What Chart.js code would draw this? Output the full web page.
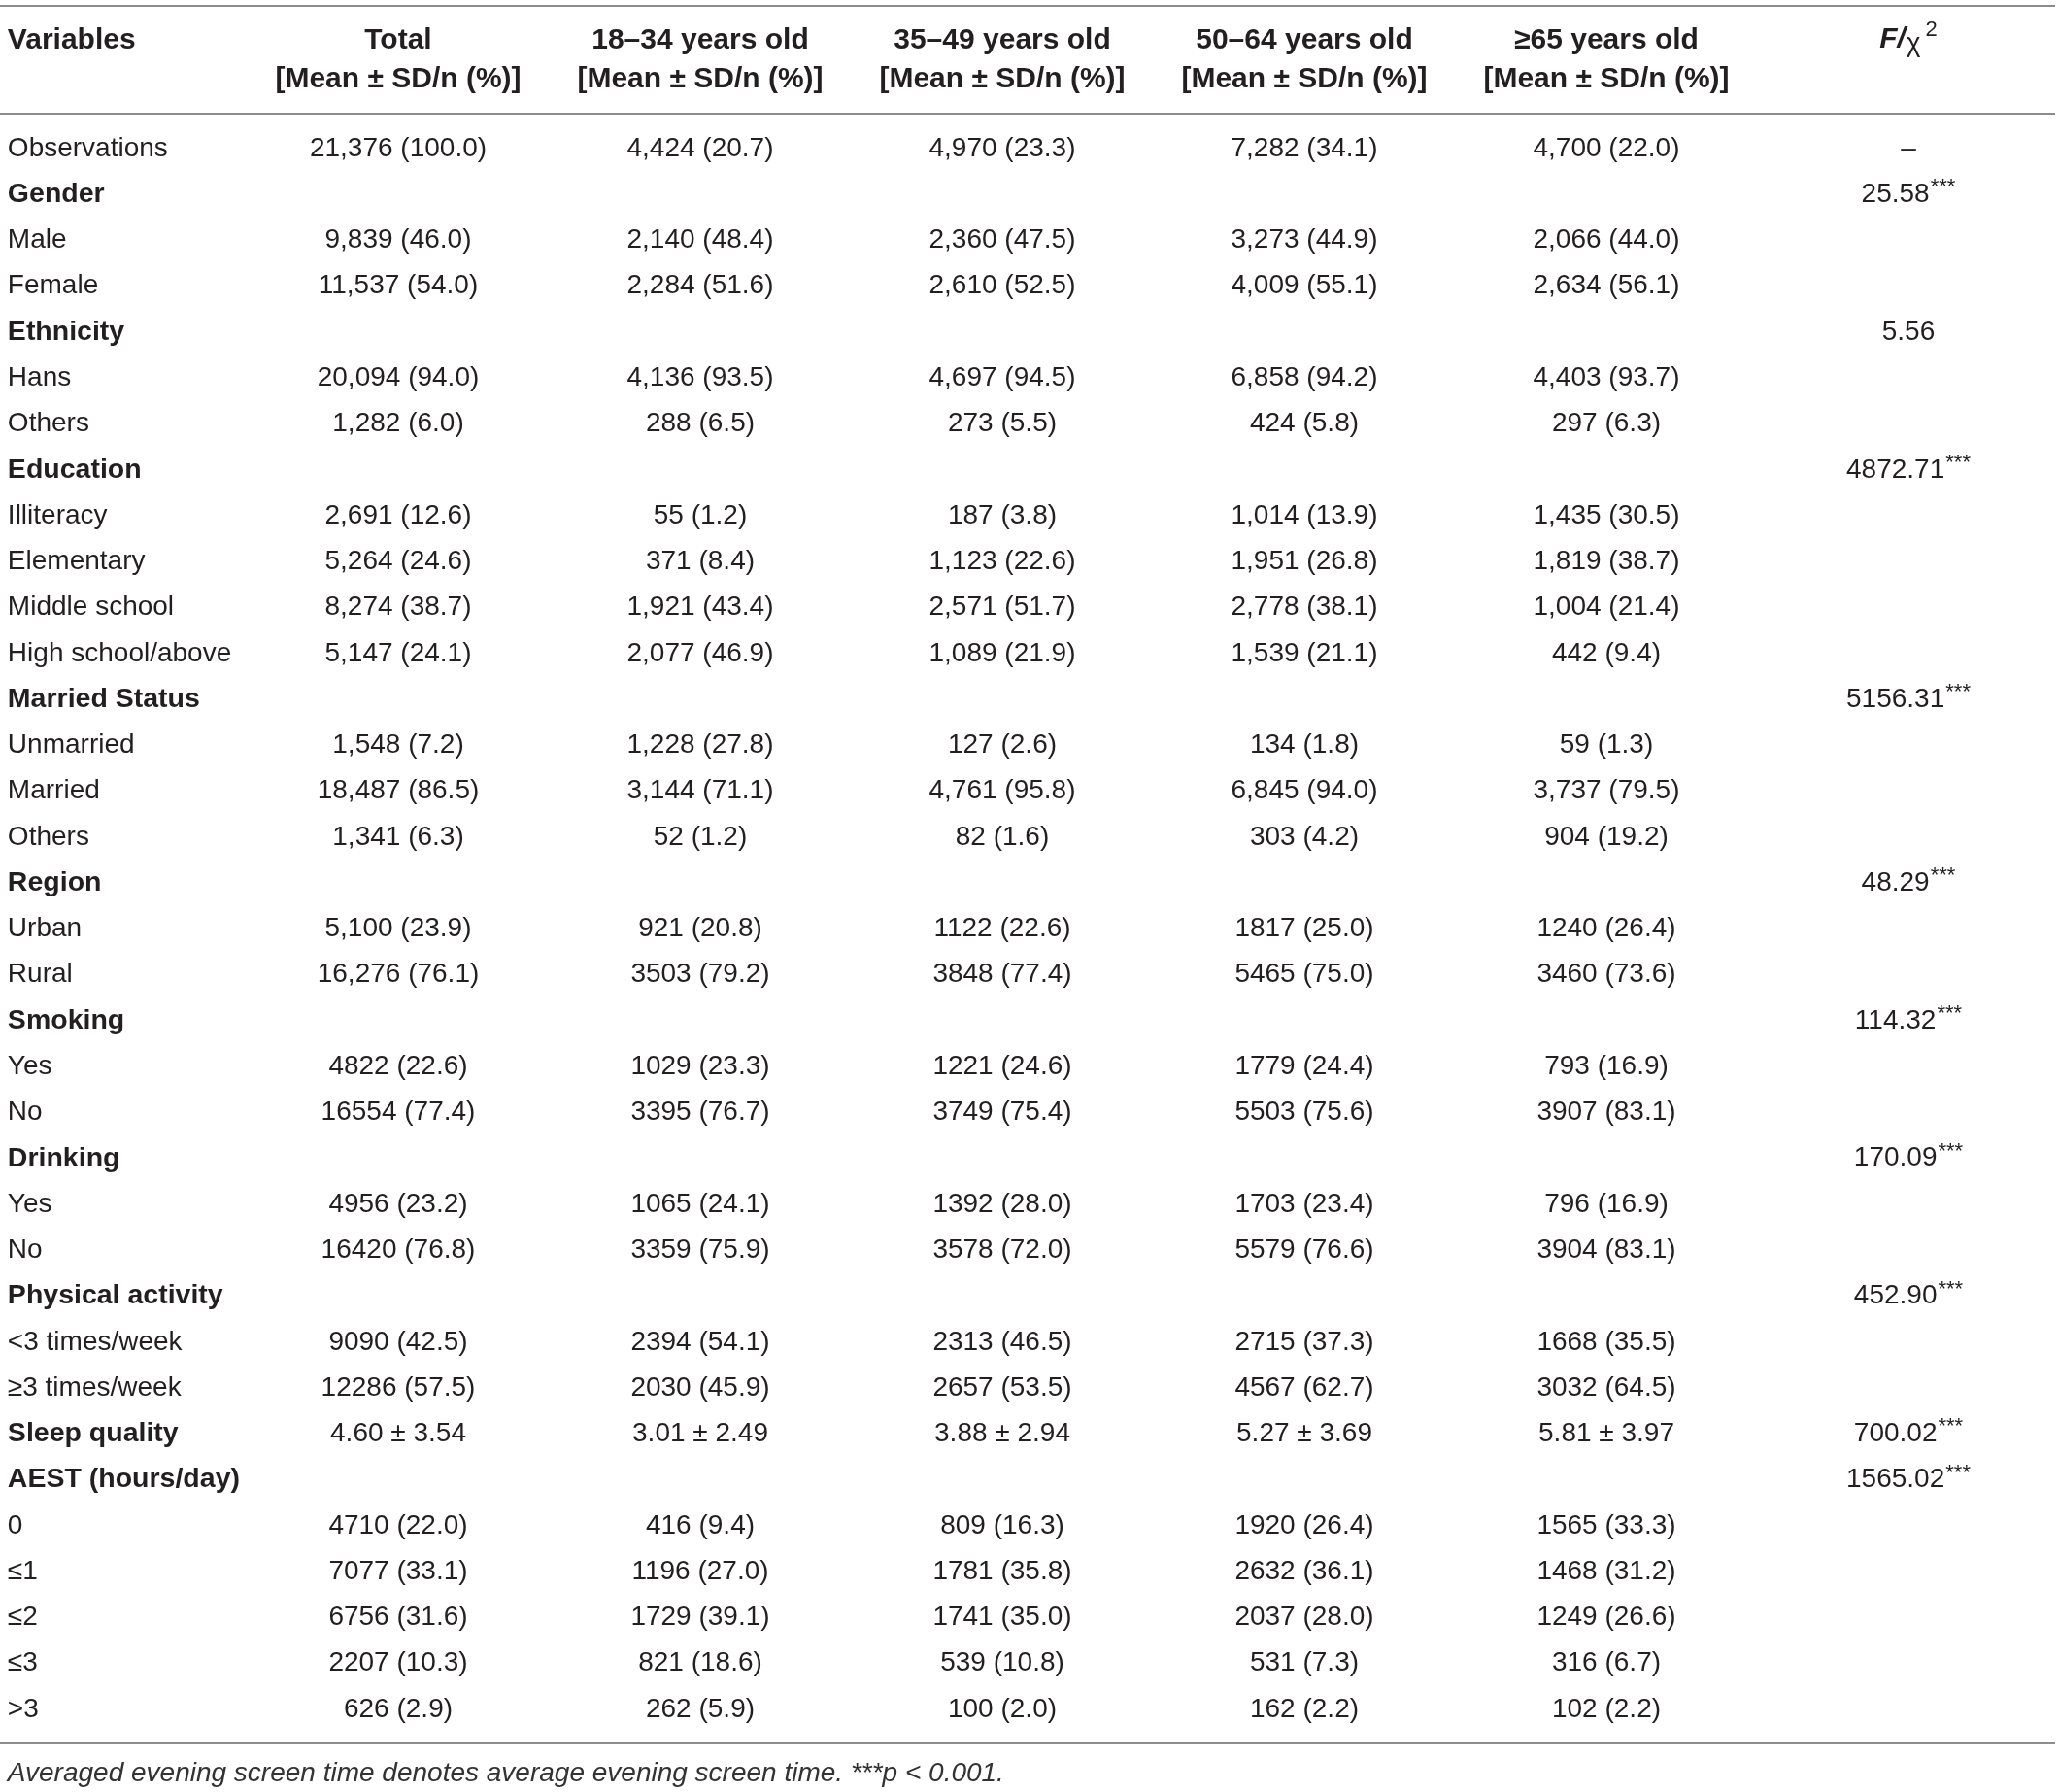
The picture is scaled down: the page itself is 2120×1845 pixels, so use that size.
<!DOCTYPE html>
<html>
<head>
<meta charset="utf-8">
<script src="https://cdn.jsdelivr.net/npm/chart.js@4.4.1/dist/chart.umd.min.js"></script>
<style>
  html, body { margin: 0; padding: 0; background: #ffffff; }
  canvas { display: block; }
</style>
</head>
<body>
<canvas id="tableChart" width="2120" height="1845"></canvas>
<script>
// table content, one array per column
const rowLabels = [
	"Observations", "Gender", "Male", "Female", "Ethnicity", "Hans", "Others",
	"Education", "Illiteracy", "Elementary", "Middle school", "High school/above",
	"Married Status", "Unmarried", "Married", "Others", "Region", "Urban", "Rural",
	"Smoking", "Yes", "No", "Drinking", "Yes", "No", "Physical activity",
	"<3 times/week", "≥3 times/week", "Sleep quality", "AEST (hours/day)",
	"0", "≤1", "≤2", "≤3", ">3"
];
const groupRows = [
	"Gender", "Ethnicity", "Education", "Married Status", "Region", "Smoking",
	"Drinking", "Physical activity", "Sleep quality", "AEST (hours/day)"
];
const totalCol = [
	"21,376 (100.0)", "", "9,839 (46.0)", "11,537 (54.0)", "", "20,094 (94.0)", "1,282 (6.0)",
	"", "2,691 (12.6)", "5,264 (24.6)", "8,274 (38.7)", "5,147 (24.1)",
	"", "1,548 (7.2)", "18,487 (86.5)", "1,341 (6.3)", "", "5,100 (23.9)", "16,276 (76.1)",
	"", "4822 (22.6)", "16554 (77.4)", "", "4956 (23.2)", "16420 (76.8)", "",
	"9090 (42.5)", "12286 (57.5)", "4.60 ± 3.54", "",
	"4710 (22.0)", "7077 (33.1)", "6756 (31.6)", "2207 (10.3)", "626 (2.9)"
];
const age18to34 = [
	"4,424 (20.7)", "", "2,140 (48.4)", "2,284 (51.6)", "", "4,136 (93.5)", "288 (6.5)",
	"", "55 (1.2)", "371 (8.4)", "1,921 (43.4)", "2,077 (46.9)",
	"", "1,228 (27.8)", "3,144 (71.1)", "52 (1.2)", "", "921 (20.8)", "3503 (79.2)",
	"", "1029 (23.3)", "3395 (76.7)", "", "1065 (24.1)", "3359 (75.9)", "",
	"2394 (54.1)", "2030 (45.9)", "3.01 ± 2.49", "",
	"416 (9.4)", "1196 (27.0)", "1729 (39.1)", "821 (18.6)", "262 (5.9)"
];
const age35to49 = [
	"4,970 (23.3)", "", "2,360 (47.5)", "2,610 (52.5)", "", "4,697 (94.5)", "273 (5.5)",
	"", "187 (3.8)", "1,123 (22.6)", "2,571 (51.7)", "1,089 (21.9)",
	"", "127 (2.6)", "4,761 (95.8)", "82 (1.6)", "", "1122 (22.6)", "3848 (77.4)",
	"", "1221 (24.6)", "3749 (75.4)", "", "1392 (28.0)", "3578 (72.0)", "",
	"2313 (46.5)", "2657 (53.5)", "3.88 ± 2.94", "",
	"809 (16.3)", "1781 (35.8)", "1741 (35.0)", "539 (10.8)", "100 (2.0)"
];
const age50to64 = [
	"7,282 (34.1)", "", "3,273 (44.9)", "4,009 (55.1)", "", "6,858 (94.2)", "424 (5.8)",
	"", "1,014 (13.9)", "1,951 (26.8)", "2,778 (38.1)", "1,539 (21.1)",
	"", "134 (1.8)", "6,845 (94.0)", "303 (4.2)", "", "1817 (25.0)", "5465 (75.0)",
	"", "1779 (24.4)", "5503 (75.6)", "", "1703 (23.4)", "5579 (76.6)", "",
	"2715 (37.3)", "4567 (62.7)", "5.27 ± 3.69", "",
	"1920 (26.4)", "2632 (36.1)", "2037 (28.0)", "531 (7.3)", "162 (2.2)"
];
const age65plus = [
	"4,700 (22.0)", "", "2,066 (44.0)", "2,634 (56.1)", "", "4,403 (93.7)", "297 (6.3)",
	"", "1,435 (30.5)", "1,819 (38.7)", "1,004 (21.4)", "442 (9.4)",
	"", "59 (1.3)", "3,737 (79.5)", "904 (19.2)", "", "1240 (26.4)", "3460 (73.6)",
	"", "793 (16.9)", "3907 (83.1)", "", "796 (16.9)", "3904 (83.1)", "",
	"1668 (35.5)", "3032 (64.5)", "5.81 ± 3.97", "",
	"1565 (33.3)", "1468 (31.2)", "1249 (26.6)", "316 (6.7)", "102 (2.2)"
];
const fStats = [
	"–", "25.58***", "", "", "5.56", "", "",
	"4872.71***", "", "", "", "",
	"5156.31***", "", "", "", "48.29***", "", "",
	"114.32***", "", "", "170.09***", "", "", "452.90***",
	"", "", "700.02***", "1565.02***",
	"", "", "", "", ""
];
const columnHeads = ["Total", "18–34 years old", "35–49 years old", "50–64 years old", "≥65 years old"];
const subHead = "[Mean ± SD/n (%)]";
const footnote = "Averaged evening screen time denotes average evening screen time. ***p < 0.001.";

const valueColumns = [totalCol, age18to34, age35to49, age50to64, age65plus, fStats];

const FONT = '"Liberation Sans", Arial, Helvetica, sans-serif';
const TEXT = "#231f20";

function cellPoints(col, colIndex) {
	const pts = [];
	col.forEach((txt, i) => {
		if (txt !== "") pts.push({ x: colIndex, y: i, label: txt });
	});
	return pts;
}

const datasets = [
	{ data: rowLabels.map((t, i) => ({ x: -0.293, y: i, label: t })) }
].concat(valueColumns.map((col, k) => ({ data: cellPoints(col, k + 1) })));

datasets.forEach((ds) => {
	ds.pointRadius = 0;
	ds.pointHoverRadius = 0;
	ds.showLine = false;
});

// draws the cell text at each invisible point, plus header and rules
const tablePlugin = {
	id: "tableText",
	afterDatasetsDraw(chart) {
		const ctx = chart.ctx;
		const xs = chart.scales.x;
		const ys = chart.scales.y;
		ctx.save();
		ctx.textBaseline = "middle";
		ctx.fillStyle = TEXT;

		function drawWithStars(txt, x, y) {
			const m = txt.match(/^(.*?)(\*+)$/);
			const main = m ? m[1] : txt;
			const stars = m ? m[2] : "";
			ctx.font = "28px " + FONT;
			const w1 = ctx.measureText(main).width;
			ctx.font = "22px " + FONT;
			const w2 = stars ? ctx.measureText(stars).width + 1 : 0;
			const left = x - (w1 + w2) / 2;
			ctx.textAlign = "left";
			ctx.font = "28px " + FONT;
			ctx.fillText(main, left, y);
			if (stars) {
				ctx.font = "22px " + FONT;
				ctx.fillText(stars, left + w1 + 1, y - 7);
			}
		}

		chart.data.datasets.forEach((ds, d) => {
			const meta = chart.getDatasetMeta(d);
			meta.data.forEach((pt, i) => {
				const txt = ds.data[i].label;
				if (d === 0) {
					const bold = groupRows.includes(txt);
					ctx.font = (bold ? "bold 28.5px " : "28px ") + FONT;
					ctx.textAlign = "left";
					ctx.fillText(txt, pt.x, pt.y);
				} else {
					drawWithStars(txt, pt.x, pt.y);
				}
			});
		});

		// header
		const h1 = ys.getPixelForValue(-2.35);
		const h2 = ys.getPixelForValue(-1.5);
		ctx.font = "bold 30px " + FONT;
		ctx.textAlign = "left";
		ctx.fillText("Variables", xs.getPixelForValue(-0.293), h1);
		ctx.textAlign = "center";
		columnHeads.forEach((h, k) => {
			const cx = xs.getPixelForValue(k + 1);
			ctx.fillText(h, cx, h1);
			ctx.fillText(subHead, cx, h2);
		});
		// F/χ2 head
		const fx = xs.getPixelForValue(6);
		const hy = ys.getPixelForValue(-2.38);
		ctx.textAlign = "left";
		ctx.font = "italic bold 30px " + FONT;
		const wF = ctx.measureText("F/").width;
		ctx.font = "28px " + FONT;
		const wChi = ctx.measureText("χ").width;
		ctx.font = "22px " + FONT;
		const w2 = ctx.measureText("2").width;
		const lx = fx - (wF + wChi + w2 + 6) / 2;
		ctx.font = "italic bold 30px " + FONT;
		ctx.fillText("F/", lx, hy);
		ctx.font = "28px " + FONT;
		ctx.fillText("χ", lx + wF + 1, hy + 5);
		ctx.font = "22px " + FONT;
		ctx.fillText("2", lx + wF + wChi + 6, hy - 10);

		// rules
		ctx.strokeStyle = "#8c8c8c";
		ctx.lineWidth = 2;
		[-3.12, -0.76, 34.75].forEach((v) => {
			const y = Math.round(ys.getPixelForValue(v));
			ctx.beginPath();
			ctx.moveTo(chart.chartArea.left, y);
			ctx.lineTo(chart.chartArea.right - 4, y);
			ctx.stroke();
		});

		// footnote
		ctx.font = "italic 28px " + FONT;
		ctx.textAlign = "left";
		ctx.fillStyle = "#333333";
		ctx.fillText(footnote, xs.getPixelForValue(-0.293), ys.getPixelForValue(35.4));
		ctx.restore();
	}
};

new Chart(document.getElementById("tableChart"), {
	type: "scatter",
	data: { datasets: datasets },
	options: {
		responsive: false,
		animation: false,
		devicePixelRatio: 1,
		layout: { padding: 0 },
		plugins: { legend: { display: false }, tooltip: { enabled: false } },
		events: [],
		scales: {
			x: { type: "linear", min: -0.3183, max: 6.4984, display: false },
			y: { type: "linear", reverse: true, min: -3.237, max: 35.8, display: false }
		}
	},
	plugins: [tablePlugin]
});
</script>
</body>
</html>
